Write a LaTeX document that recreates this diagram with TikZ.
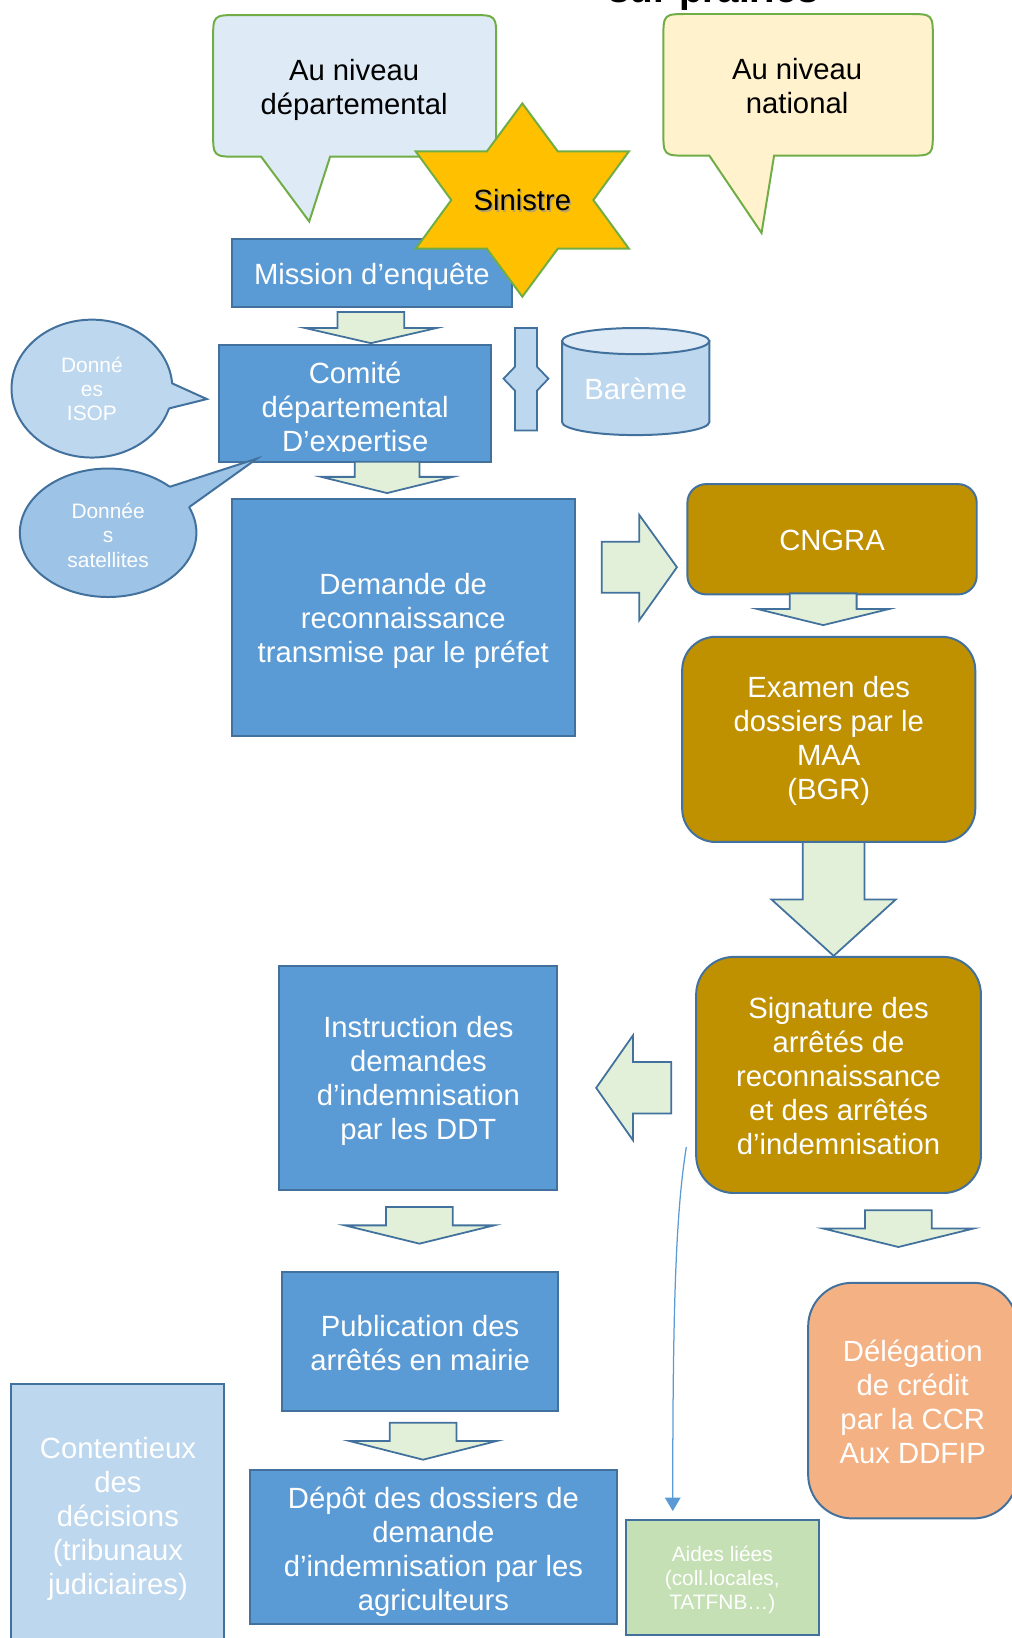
\documentclass[tikz,border=0pt]{standalone}
\usepackage{fontspec}
\setmainfont{Liberation Sans}
\usetikzlibrary{arrows.meta}
\definecolor{midblue}{HTML}{5B9BD5}
\definecolor{darkblue}{HTML}{41719C}
\definecolor{lightblue}{HTML}{BDD7EE}
\definecolor{paleblue}{HTML}{DEEBF7}
\definecolor{satblue}{HTML}{9DC3E6}
\definecolor{arrowgreen}{HTML}{E2F0D9}
\definecolor{gold}{HTML}{BF9000}
\definecolor{peach}{HTML}{F4B183}
\definecolor{leaf}{HTML}{C5E0B4}
\definecolor{bubgreen}{HTML}{70AD47}
\definecolor{cream}{HTML}{FFF2CC}
\definecolor{starfill}{HTML}{FFC000}
\tikzset{
  bigtxt/.style={font=\fontsize{28}{32.5}\selectfont, align=center},
  smalltxt/.style={font=\fontsize{20}{23}\selectfont, align=center},
  bluebox/.style={draw=darkblue, fill=midblue, line width=1.9pt, text=white, inner sep=0pt},
  goldbox/.style={draw=darkblue, fill=gold, line width=1.9pt, text=white, inner sep=0pt},
  lightbox/.style={draw=darkblue, fill=lightblue, line width=1.9pt, text=white, inner sep=0pt},
  blockarrow/.style={draw=darkblue, fill=arrowgreen, line width=1.7pt, line join=miter},
  bubble/.style={draw=bubgreen, line width=1.9pt, line join=miter},
  calloutline/.style={draw=darkblue, line width=1.9pt},
  thinlink/.style={draw=midblue, line width=1.2pt, -{Triangle[width=15pt,length=13pt]}}
}
\newcommand{\myDown}[6]{%
  \draw[blockarrow] ({#1-#2},#3) -- ({#1+#2},#3) -- ({#1+#2},#4) -- ({#1+#5},#4)
    -- (#1,#6) -- ({#1-#5},#4) -- ({#1-#2},#4) -- cycle;}
\newcommand{\tup}[1]{\rule{0pt}{#1pt}}
\begin{document}
\begin{tikzpicture}[x=1pt,y=-1pt]
\useasboundingbox (0,0) rectangle (968,1568);

% title fragment
\node[font=\fontsize{37}{40}\selectfont\bfseries, anchor=base, inner sep=0pt] (title) at (683,2.5) {sur prairies};

% speech bubbles
\draw[bubble, fill=paleblue] (250,150) -- (228,150) .. controls (204,150) .. (204,126)
  -- (204,38.4) .. controls (204,14.4) .. (228,14.4) -- (451,14.4) .. controls (475,14.4) .. (475,38.4)
  -- (475,126) .. controls (475,150) .. (451,150) -- (316,150) -- (296,212) -- cycle;
\node[bigtxt] (dep) at (339,86) {Au niveau\\départemental};

\draw[bubble, fill=cream] (679,149) -- (659,149) .. controls (635,149) .. (635,125)
  -- (635,37.4) .. controls (635,13.4) .. (659,13.4) -- (869,13.4) .. controls (893,13.4) .. (893,37.4)
  -- (893,125) .. controls (893,149) .. (869,149) -- (741,149) -- (729,223) -- cycle;
\node[bigtxt] (nat) at (763,82) {Au niveau\\national};

% mission
\node[bluebox, bigtxt, minimum width=268pt, minimum height=65.5pt] (mission) at (356,261.3) {\tup{28.7}Mission d’enquête};

% star
\draw[draw=bubgreen, fill=starfill, line width=1.9pt, line join=miter]
  (500,99) -- (534,145) -- (602,145) -- (568,191.5) -- (602,238) -- (534,238) -- (500,284)
  -- (466,238) -- (398,238) -- (432,191.5) -- (398,145) -- (466,145) -- cycle;
\node[bigtxt, text=black!40, opacity=0.7] at (501.6,193.2) {Sinistre};
\node[bigtxt] (sinistre) at (500,191.5) {Sinistre};

% arrow mission -> comite
\myDown{355}{32}{298.6}{314}{63}{328.5}

% comite
\node[bluebox, minimum width=260pt, minimum height=112pt] (comite) at (340,386) {};
\begin{scope}
  \clip (212,332) rectangle (468,432);
  \node[bigtxt, text=white] (comitetxt) at (340,392) {Comité\\départemental\\D’expertise};
\end{scope}

% double arrow
\draw[draw=darkblue, fill=lightblue, line width=1.7pt, line join=miter]
  (493,314) -- (514,314) -- (514,351) -- (525,362.5) -- (514,374) -- (514,412)
  -- (493,412) -- (493,374) -- (482,362.5) -- (493,351) -- cycle;

% bareme cylinder
\draw[draw=darkblue, fill=lightblue, line width=1.9pt] (538,326.5) -- (538,404)
  arc[start angle=180, end angle=360, x radius=70.5pt, y radius=12.5pt] -- (679,326.5) -- cycle;
\draw[draw=darkblue, fill=paleblue, line width=1.9pt] (608.5,326.5) ellipse [x radius=70.5pt, y radius=12.5pt];
\node[bigtxt, text=white] (bareme) at (608.5,372) {Barème};

% arrow comite -> demande
\myDown{370.5}{31}{442}{456.5}{63}{472}

% demande
\node[bluebox, bigtxt, minimum width=328pt, minimum height=227pt] (demande) at (386,591.5)
  {\tup{26}Demande de\\reconnaissance\\transmise par le préfet};

% callout ISOP
\draw[calloutline, fill=lightblue] (88,372) ellipse [x radius=77pt, y radius=66pt];
\fill[lightblue] (164.8,367) -- (198,382) -- (161.7,391) -- (150,380) -- cycle;
\draw[calloutline, line join=miter] (164.8,367) -- (198,382) -- (161.7,391);
\node[smalltxt, text=white] (isop) at (88,372) {Donné\\es\\ISOP};

% callout satellites
\draw[calloutline, fill=satblue] (103.5,510) ellipse [x radius=84.5pt, y radius=61.5pt];
\fill[satblue] (162.5,466) -- (246,439) -- (181,485.5) -- (150,490) -- cycle;
\draw[calloutline, line join=miter] (162.5,466) -- (246,439) -- (181,485.5);
\node[smalltxt, text=white] (sat) at (103.5,512.5) {Donnée\\s\\satellites};

% right arrow demande -> CNGRA
\draw[blockarrow] (576,518.6) -- (612,518.6) -- (612,493) -- (648,543) -- (612,593.6)
  -- (612,567.5) -- (576,567.5) -- cycle;

% CNGRA
\node[goldbox, bigtxt, rounded corners=18pt, minimum width=277pt, minimum height=105.6pt] (cngra) at (796.5,516.2) {\tup{22.4}CNGRA};
\myDown{788}{32}{568}{583}{63}{598.4}

% Examen
\node[goldbox, bigtxt, rounded corners=32pt, minimum width=280.6pt, minimum height=196.4pt] (examen) at (793.3,707.8)
  {\tup{24}Examen des\\dossiers par le\\MAA\\(BGR)};
\myDown{798}{29.5}{806}{861}{59.5}{915}

% Signature
\node[goldbox, bigtxt, rounded corners=36pt, minimum width=272.6pt, minimum height=226pt] (signature) at (802.7,1029)
  {\tup{22.4}Signature des\\arrêtés de\\reconnaissance\\et des arrêtés\\d’indemnisation};

% left arrow signature -> instruction
\draw[blockarrow] (642.5,1016.5) -- (606,1016.5) -- (606,991) -- (570.7,1041.4) -- (606,1091.6)
  -- (606,1066) -- (642.5,1066) -- cycle;

% Instruction
\node[bluebox, bigtxt, minimum width=266pt, minimum height=213.7pt] (instruction) at (400.5,1031.9)
  {\tup{26}Instruction des\\demandes\\d’indemnisation\\par les DDT};
\myDown{401.5}{32}{1155.4}{1173}{71.5}{1190.5}

% Publication
\node[bluebox, bigtxt, minimum width=264.7pt, minimum height=133pt] (publication) at (402.2,1284.5)
  {\tup{22}Publication des\\arrêtés en mairie};
\myDown{405}{32}{1362}{1379.4}{70.5}{1397.3}

% Depot
\node[bluebox, bigtxt, minimum width=351.8pt, minimum height=148pt] (depot) at (414.9,1481)
  {\tup{29.7}Dépôt des dossiers de\\demande\\d’indemnisation par les\\agriculteurs};

% signature -> delegation
\myDown{860}{32}{1158.5}{1176}{72}{1193.7}
\node[draw=darkblue, fill=peach, line width=1.9pt, text=white, inner sep=0pt, bigtxt, rounded corners=42pt,
  minimum width=200.4pt, minimum height=225.5pt] (delegation) at (873.8,1340.75)
  {\tup{22.7}Délégation\\de crédit\\par la CCR\\Aux DDFIP};

% Contentieux
\node[lightbox, bigtxt, minimum width=203.8pt, minimum height=253pt] (contentieux) at (112.9,1451)
  {\tup{26.4}Contentieux\\des\\décisions\\(tribunaux\\judiciaires)};

% Aides
\node[draw=darkblue, fill=leaf, line width=1.9pt, text=white, inner sep=0pt, smalltxt,
  minimum width=185.2pt, minimum height=109.4pt] (aides) at (691.4,1510.1)
  {\tup{18.8}Aides liées\\(coll.locales,\\TATFNB…)};

% thin link
\coordinate (cstart) at (657,1098);
\coordinate (cend) at (644,1446.5);
\draw[thinlink] (cstart) .. controls (647,1160) and (644,1250) .. (cend);
\end{tikzpicture}
\end{document}
